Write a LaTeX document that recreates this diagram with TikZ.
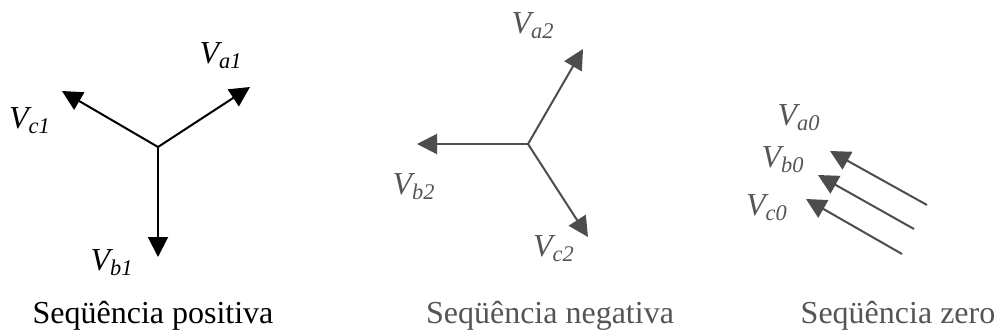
\documentclass[tikz,border=0pt]{standalone}
\usepackage{fontspec}
\setmainfont{Liberation Serif}
\usetikzlibrary{arrows.meta}

\definecolor{phgray}{HTML}{4D4D4D}
\definecolor{capgray}{HTML}{555555}

\begin{document}
\begin{tikzpicture}[
  x=0.5pt, y=-0.5pt,
  phasor/.style={line width=1pt, -{Triangle[length=10pt, width=10pt]}},
  vlbl/.style={font=\fontsize{16}{19}\selectfont\itshape, inner sep=0pt},
  seqcap/.style={font=\fontsize{16}{19}\selectfont, inner sep=0pt},
]
\useasboundingbox (0,0) rectangle (995,333);

% positive sequence
\coordinate (o1)  at (158,147);
\coordinate (a1)  at (250,87);
\coordinate (b1)  at (158,257);
\coordinate (c1)  at (62,91);
\draw[phasor] (o1) -- (a1);
\draw[phasor] (o1) -- (b1);
\draw[phasor] (o1) -- (c1);
\node[vlbl] (la1) at (221,56)  {V\textsubscript{a1}};
\node[vlbl] (lb1) at (112,263) {V\textsubscript{b1}};
\node[vlbl] (lc1) at (30,121)  {V\textsubscript{c1}};
\node[seqcap] (pos) at (153,316) {Seqüência positiva};

% negative sequence
\coordinate (o2)  at (528,144);
\coordinate (a2)  at (583,49);
\coordinate (b2)  at (417,144);
\coordinate (c2)  at (588,237);
\draw[phasor, phgray] (o2) -- (a2);
\draw[phasor, phgray] (o2) -- (b2);
\draw[phasor, phgray] (o2) -- (c2);
\node[vlbl, capgray] (la2) at (533,26)  {V\textsubscript{a2}};
\node[vlbl, capgray] (lb2) at (414,187) {V\textsubscript{b2}};
\node[vlbl, capgray] (lc2) at (554,249) {V\textsubscript{c2}};
\node[seqcap, capgray] (neg) at (550,316) {Seqüência negativa};

% zero sequence
\coordinate (s0a) at (927,205);
\coordinate (a0)  at (830,151);
\coordinate (s0b) at (914,229);
\coordinate (b0)  at (818,175);
\coordinate (s0c) at (902,254);
\coordinate (c0)  at (806,199);
\draw[phasor, phgray] (s0a) -- (a0);
\draw[phasor, phgray] (s0b) -- (b0);
\draw[phasor, phgray] (s0c) -- (c0);
\node[vlbl, capgray] (la0) at (799,118) {V\textsubscript{a0}};
\node[vlbl, capgray] (lb0) at (783,160) {V\textsubscript{b0}};
\node[vlbl, capgray] (lc0) at (767,208) {V\textsubscript{c0}};
\node[seqcap, capgray] (zer) at (898,316) {Seqüência zero};
\end{tikzpicture}
\end{document}
